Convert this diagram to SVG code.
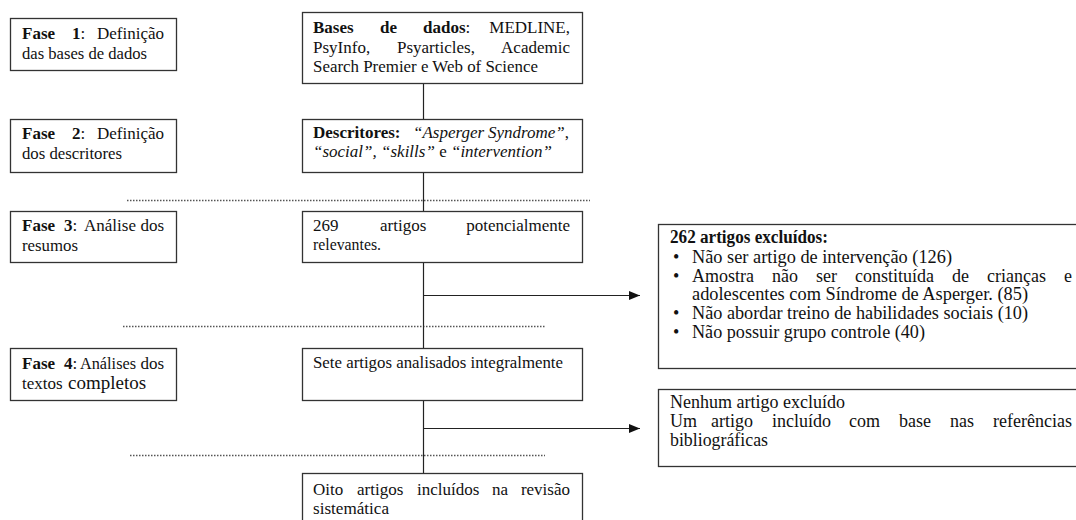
<svg xmlns="http://www.w3.org/2000/svg" width="1076" height="520" viewBox="0 0 1076 520">
<style>
.bg{fill:#fff}
.box{fill:#fff;stroke:#333;stroke-width:1.3}
.t{font-family:"Liberation Serif","Times New Roman",serif;font-size:17px;fill:#111}
.r{font-size:18px}
.b{font-weight:bold}
.i{font-style:italic}
.e{text-anchor:end}
.ln{fill:none;stroke:#222;stroke-width:1.2}
.dot{fill:none;stroke:#555;stroke-width:1.3;stroke-dasharray:1.5 1.5}
</style>
<defs>
<marker id="arr" markerUnits="userSpaceOnUse" markerWidth="12" markerHeight="10" refX="11" refY="5" orient="auto">
<path d="M0,0.5 L11,5 L0,9.5 z" fill="#111"/>
</marker>
</defs>
<rect class="bg" x="0" y="0" width="1076" height="520"/>

<g id="separators">
<line class="dot" x1="127" y1="200.5" x2="590" y2="200.5"/>
<line class="dot" x1="123" y1="326.5" x2="545" y2="326.5"/>
<line class="dot" x1="130" y1="455.5" x2="545" y2="455.5"/>
</g>

<g id="connectors">
<path class="ln" d="M423.5,83.5 V119.5"/>
<path class="ln" d="M423.5,172.5 V211.5"/>
<path class="ln" d="M423.5,262.5 V348.5"/>
<path class="ln" d="M423.5,400.5 V473.5"/>
<path class="ln" d="M423.5,295.5 H640" marker-end="url(#arr)"/>
<path class="ln" d="M423.5,428.5 H640" marker-end="url(#arr)"/>
</g>

<g id="fase1">
<rect class="box" x="10.5" y="18.5" width="166" height="52"/>
<text class="t" y="39"><tspan x="22" class="b">Fase</tspan><tspan x="72" class="b">1</tspan><tspan>:</tspan></text>
<text class="t e" x="164" y="39">Definição</text>
<text class="t" x="22" y="59" textLength="125" lengthAdjust="spacingAndGlyphs">das bases de dados</text>
</g>

<g id="fase2">
<rect class="box" x="10.5" y="119.5" width="166" height="53"/>
<text class="t" y="139"><tspan x="22" class="b">Fase</tspan><tspan x="72" class="b">2</tspan><tspan>:</tspan></text>
<text class="t e" x="164" y="139">Definição</text>
<text class="t" x="22" y="159" textLength="100" lengthAdjust="spacingAndGlyphs">dos descritores</text>
</g>

<g id="fase3">
<rect class="box" x="10.5" y="211.5" width="166" height="51"/>
<text class="t" y="231"><tspan x="22" class="b">Fase</tspan><tspan x="64" class="b">3</tspan><tspan>:</tspan><tspan x="84">Análise</tspan></text>
<text class="t e" x="164" y="231">dos</text>
<text class="t" x="22" y="251" textLength="56" lengthAdjust="spacingAndGlyphs">resumos</text>
</g>

<g id="fase4">
<rect class="box" x="10.5" y="348.5" width="166" height="52"/>
<text class="t" y="369"><tspan x="22" class="b">Fase</tspan><tspan x="64" class="b">4</tspan><tspan>:</tspan></text>
<text class="t" x="80" y="369" textLength="56" lengthAdjust="spacingAndGlyphs">Análises</text>
<text class="t e" x="164" y="369">dos</text>
<text class="t" y="389"><tspan x="22">textos</tspan><tspan x="68" style="font-size:19px">completos</tspan></text>
</g>

<g id="bases">
<rect class="box" x="302.5" y="12.5" width="280" height="71"/>
<text class="t" y="33"><tspan x="313" class="b">Bases</tspan><tspan x="380" class="b">de</tspan><tspan x="423" class="b">dados</tspan><tspan>:</tspan></text>
<text class="t e" x="570" y="33">MEDLINE,</text>
<text class="t" y="53"><tspan x="313">PsyInfo,</tspan><tspan x="397">Psyarticles,</tspan></text>
<text class="t e" x="570" y="53">Academic</text>
<text class="t" x="313" y="72" textLength="225" lengthAdjust="spacingAndGlyphs">Search Premier e Web of Science</text>
</g>

<g id="descritores">
<rect class="box" x="302.5" y="119.5" width="280" height="53"/>
<text class="t" y="138"><tspan x="313" class="b">Descritores:</tspan><tspan x="413" class="i">“Asperger</tspan></text>
<text class="t e" x="569" y="138"><tspan class="i">Syndrome”</tspan>,</text>
<text class="t" x="313" y="157"><tspan class="i">“social”, “skills”</tspan> e <tspan class="i">“intervention”</tspan></text>
</g>

<g id="potenciais">
<rect class="box" x="302.5" y="211.5" width="280" height="51"/>
<text class="t" y="231"><tspan x="313">269</tspan><tspan x="380">artigos</tspan></text>
<text class="t e" x="570" y="231">potencialmente</text>
<text class="t" x="313" y="250" textLength="68" lengthAdjust="spacingAndGlyphs">relevantes.</text>
</g>

<g id="integrais">
<rect class="box" x="302.5" y="348.5" width="280" height="52"/>
<text class="t" x="313" y="368" textLength="250" lengthAdjust="spacingAndGlyphs">Sete artigos analisados integralmente</text>
</g>

<g id="incluidos">
<rect class="box" x="302.5" y="473.5" width="280" height="60"/>
<text class="t" y="495"><tspan x="313">Oito</tspan><tspan x="357">artigos</tspan><tspan x="417">incluídos</tspan><tspan x="492">na</tspan></text>
<text class="t e" x="570" y="495">revisão</text>
<text class="t" x="313" y="514" textLength="76" lengthAdjust="spacingAndGlyphs">sistemática</text>
</g>

<g id="excluidos">
<rect class="box" x="658.5" y="224.5" width="440" height="144"/>
<text class="t r b" x="670" y="243" textLength="158" lengthAdjust="spacingAndGlyphs">262 artigos excluídos:</text>
<text class="t r" x="673" y="263">•</text>
<text class="t r" x="692" y="263" textLength="260" lengthAdjust="spacingAndGlyphs">Não ser artigo de intervenção (126)</text>
<text class="t r" x="673" y="282">•</text>
<text class="t r" y="282"><tspan x="692">Amostra</tspan><tspan x="772">não</tspan><tspan x="816">ser</tspan><tspan x="855">constituída</tspan><tspan x="952">de</tspan><tspan x="987">crianças</tspan></text>
<text class="t r e" x="1072" y="282">e</text>
<text class="t r" x="692" y="300" textLength="336" lengthAdjust="spacingAndGlyphs">adolescentes com Síndrome de Asperger. (85)</text>
<text class="t r" x="673" y="319">•</text>
<text class="t r" x="692" y="319" textLength="336" lengthAdjust="spacingAndGlyphs">Não abordar treino de habilidades sociais (10)</text>
<text class="t r" x="673" y="338">•</text>
<text class="t r" x="692" y="338" textLength="233" lengthAdjust="spacingAndGlyphs">Não possuir grupo controle (40)</text>
</g>

<g id="nenhum">
<rect class="box" x="658.5" y="389.5" width="440" height="77"/>
<text class="t r" x="670" y="408" textLength="175" lengthAdjust="spacingAndGlyphs">Nenhum artigo excluído</text>
<text class="t r" y="427"><tspan x="670">Um</tspan><tspan x="711">artigo</tspan><tspan x="772">incluído</tspan><tspan x="849">com</tspan><tspan x="899">base</tspan><tspan x="950">nas</tspan></text>
<text class="t r e" x="1072" y="427">referências</text>
<text class="t r" x="670" y="446" textLength="98" lengthAdjust="spacingAndGlyphs">bibliográficas</text>
</g>
</svg>
